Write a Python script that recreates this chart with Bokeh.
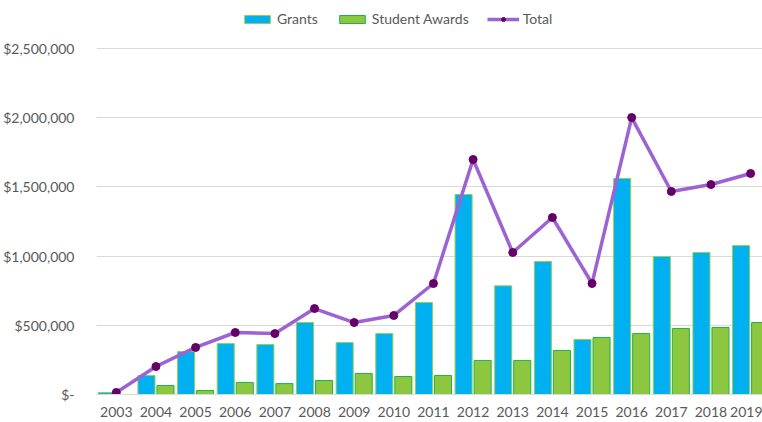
from bokeh.plotting import figure
from bokeh.models import (ColumnDataSource, Range1d, FixedTicker, Legend, LegendItem)
from bokeh.transform import dodge
from bokeh.embed import file_html
from bokeh.resources import INLINE

years = ["2003", "2004", "2005", "2006", "2007", "2008", "2009", "2010", "2011",
         "2012", "2013", "2014", "2015", "2016", "2017", "2018", "2019"]
grants = [15000, 137000, 310000, 368000, 361000, 520000, 375000, 440000, 665000,
          1445000, 785000, 961000, 397000, 1561000, 997000, 1026000, 1076000]
awards = [0, 65000, 29000, 87000, 79000, 101000, 152000, 130000, 137000,
          246000, 246000, 318000, 412000, 440000, 477000, 484000, 520000]
total = [15000, 202000, 340000, 448000, 440000, 621000, 520000, 571000, 802000,
         1698000, 1026000, 1279000, 802000, 2001000, 1467000, 1517000, 1597000]
y_ticks = [0, 500000, 1000000, 1500000, 2000000, 2500000]
y_labels = ["$-", "$500,000", "$1,000,000", "$1,500,000", "$2,000,000", "$2,500,000"]

idx = list(range(len(years)))
src = ColumnDataSource(dict(i=idx, grants=grants, awards=awards, total=total))

FONT = "Lato"
GRAY = "#595959"

# frame spans the full top so the legend (inside the frame) is not clipped;
# the top gridline (last tick) sits 48px below the top edge.
H, BOTTOM, TOP_GAP = 422, 28, 48
frame_h = H - BOTTOM
y_end = y_ticks[-1] * frame_h / (frame_h - TOP_GAP)

p = figure(width=762, height=H, output_backend="svg", toolbar_location=None,
           x_range=Range1d(-0.5, 16.3), y_range=Range1d(0, y_end),
           min_border_left=93, min_border_right=0, min_border_top=0,
           min_border_bottom=BOTTOM)
p.outline_line_color = None
p.background_fill_color = "white"
p.border_fill_color = "white"

bg = p.vbar(x=dodge("i", -0.24), top="grants", width=0.43, source=src,
            fill_color="#00B0F0", line_color="#92D050", line_width=1)
ba = p.vbar(x=dodge("i", 0.24), top="awards", width=0.43, source=src,
            fill_color="#8DC63F", line_color="#1DB34B", line_width=1)
ln = p.line(x="i", y="total", source=src, line_color="#9D62D3", line_width=3.5)
sc = p.scatter(x="i", y="total", source=src, size=8, fill_color="#660066",
               line_color="#660066")

# axes
p.xaxis.ticker = FixedTicker(ticks=idx)
p.xaxis.major_label_overrides = {i: y for i, y in zip(idx, years)}
p.xaxis.axis_line_color = "#D9D9D9"
p.xaxis.major_tick_line_color = None
p.xaxis.minor_tick_line_color = None
p.xaxis.major_label_text_font = FONT
p.xaxis.major_label_text_font_size = "14px"
p.xaxis.major_label_text_color = GRAY
p.xaxis.major_label_standoff = 6

p.yaxis.ticker = FixedTicker(ticks=y_ticks)
p.yaxis.major_label_overrides = {t: l for t, l in zip(y_ticks, y_labels)}
p.yaxis.axis_line_color = None
p.yaxis.major_tick_line_color = None
p.yaxis.minor_tick_line_color = None
p.yaxis.major_label_text_font = FONT
p.yaxis.major_label_text_font_size = "14px"
p.yaxis.major_label_text_color = GRAY
p.yaxis.major_label_standoff = 16

p.xgrid.grid_line_color = None
p.ygrid.grid_line_color = "#D9D9D9"
p.ygrid.ticker = FixedTicker(ticks=y_ticks)

legend = Legend(items=[LegendItem(label="Grants", renderers=[bg]),
                       LegendItem(label="Student Awards", renderers=[ba]),
                       LegendItem(label="Total", renderers=[ln, sc])],
                orientation="horizontal", location=(145, 367),
                glyph_width=32, glyph_height=10, label_standoff=4, spacing=18,
                padding=0, margin=0, border_line_color=None,
                background_fill_alpha=0, label_text_font=FONT,
                label_text_font_size="14px", label_text_color=GRAY,
                label_height=17)
p.add_layout(legend, "center")

open("out.html", "w").write(file_html(p, INLINE))
